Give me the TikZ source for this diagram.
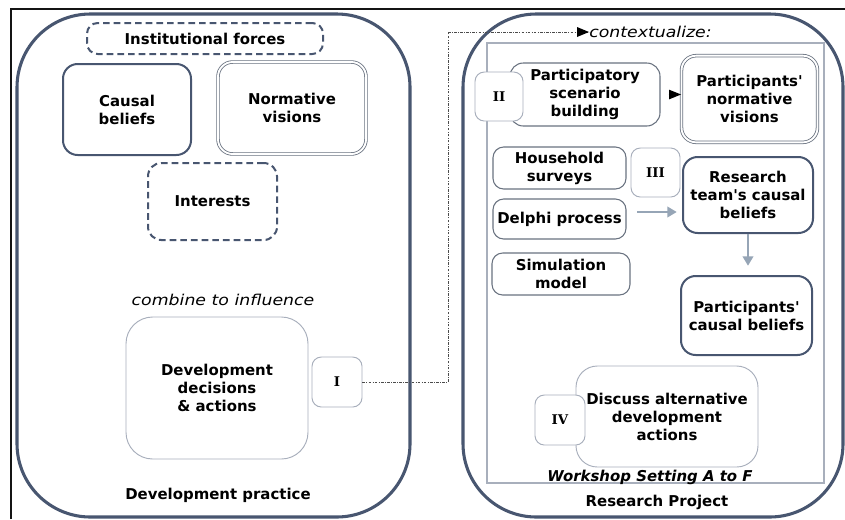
\documentclass[tikz,border=0pt]{standalone}
\usepackage{fontspec}
\setmainfont{DejaVu Sans}[Ligatures=TeXOff]
\newfontfamily\numfont{DejaVu Serif}[Ligatures=TeXOff]
\newfontfamily\itfont{DejaVu Sans}[Ligatures=TeXOff, FakeStretch=1.16]
\usetikzlibrary{arrows.meta}
\definecolor{dk}{RGB}{72,86,112}
\definecolor{lg}{RGB}{168,175,188}
\definecolor{md}{RGB}{105,114,128}
\definecolor{ar}{RGB}{150,165,182}
\definecolor{fr}{RGB}{20,20,20}
\tikzset{
  base/.style={align=center, inner sep=0pt, rounded corners=8pt, fill=white, text=black},
  thickb/.style={base, draw=dk, line width=1.5pt},
  dashb/.style={base, draw=dk, line width=1.5pt, dash pattern=on 5pt off 3pt},
  dblb/.style={base, draw=md, double=white, double distance=1.4pt, line width=0.6pt},
  thinb/.style={base, draw=lg, line width=0.7pt},
  midb/.style={base, draw=md, line width=0.8pt},
  numb/.style={thinb, rounded corners=7pt, font=\numfont\bfseries\fontsize{10}{12}\selectfont},
  outerb/.style={draw=dk, line width=2.3pt, rounded corners=55pt},
  dotconn/.style={draw=black!70, line width=0.6pt, dash pattern=on 2pt off 1pt on 0.6pt off 1pt},
  grayarr/.style={draw=ar, line width=1.3pt, -{Triangle[length=7pt,width=8pt]}},
  itlab/.style={font=\itfont\itshape\fontsize{11.2}{13.5}\selectfont},
}
\begin{document}
\begin{tikzpicture}[x=0.75pt,y=-0.75pt, font=\bfseries\fontsize{11.2}{13.5}\selectfont]
\useasboundingbox (0,0) rectangle (845,519);
\clip (0,0) rectangle (845,519);
\fill[white] (0,0) rectangle (845,519);
% frame
\draw[fr, line width=1.2pt] (11,519) -- (11,9) -- (850,9);
% outer containers
\draw[outerb] (17,14) rectangle (410,517);
\draw[outerb] (463,14) rectangle (843,517);
\draw[draw=lg, line width=0.9pt] (487,43) rectangle (824,483);

% left side
\node[dashb, minimum width=177pt, minimum height=23.25pt] (inst) at (205,38.5) {Institutional forces};
\node[thickb, rounded corners=11pt, minimum width=96pt, minimum height=68.25pt] (causal) at (127,109.5) {Causal\\beliefs};
\node[dblb, rounded corners=11pt, minimum width=111pt, minimum height=69pt] (norm) at (292,108) {Normative\\visions};
\node[dashb, rounded corners=10pt, minimum width=96.75pt, minimum height=57.75pt] (inter) at (212.5,201.5) {Interests};
\node[itlab] (comb) at (223,300) {combine to influence};
\node[thinb, rounded corners=20pt, minimum width=136.5pt, minimum height=106.5pt] (dev) at (217,388) {Development\\decisions\\\&~actions};
\node[numb, minimum width=37.5pt, minimum height=37.5pt] (I) at (337,382) {I};
\node (dp) at (218,495) {Development practice};

% right side
\node[itlab, anchor=west, inner sep=0pt] (ctx) at (589,32) {contextualize:};
\coordinate (bend) at (448,32);
\draw[dotconn] (I.east) -| (bend) -- (ctx.west);
\fill[black] (ctx.west) -- ++(-12,-5) -- ++(0,10) -- cycle;

\node[midb, rounded corners=10pt, minimum width=112.5pt, minimum height=47.25pt] (part) at (585,94.5) {Participatory\\scenario\\building};
\node[numb, minimum width=36pt, minimum height=36.75pt] (II) at (499,96.5) {II};
\node[dblb, rounded corners=11pt, minimum width=102pt, minimum height=65pt] (pnorm) at (749.5,99) {Participants'\\normative\\visions};
\draw[black, line width=0.8pt, shorten <=6pt, -{Triangle[length=9pt,width=7pt]}] (part.east) -- (pnorm.west |- part.east);

\node[midb, minimum width=99.75pt, minimum height=31.5pt] (house) at (559.5,168) {Household\\surveys};
\node[numb, minimum width=36.75pt, minimum height=36.75pt] (III) at (655.5,172.5) {III};
\node[midb, minimum width=99.75pt, minimum height=30pt] (delphi) at (559.5,219) {Delphi process};
\node[midb, minimum width=103.5pt, minimum height=31.5pt] (sim) at (561,274) {Simulation\\model};
\node[thickb, rounded corners=11pt, minimum width=97.5pt, minimum height=57pt] (rtcb) at (748,195) {Research\\team's causal\\beliefs};
\node[thickb, rounded corners=11pt, minimum width=98.25pt, minimum height=59.25pt] (pcb) at (746.5,315.5) {Participants'\\causal beliefs};
\draw[grayarr, shorten <=8pt, shorten >=4pt] (delphi.east |- 0,212) -- (rtcb.west |- 0,212);
\draw[grayarr, shorten >=7pt] (rtcb.south) -- (rtcb.south |- pcb.north);

\node[thinb, rounded corners=16pt, minimum width=136.5pt, minimum height=75.75pt] (disc) at (667,416.5) {Discuss alternative\\development\\actions};
\node[numb, minimum width=37.5pt, minimum height=37.5pt] (IV) at (560,420) {IV};
\node[font=\bfseries\itshape\fontsize{11.2}{13.5}\selectfont] (ws) at (650,477) {Workshop Setting A to F};
\node (rp) at (657,502) {Research Project};
\end{tikzpicture}
\end{document}
